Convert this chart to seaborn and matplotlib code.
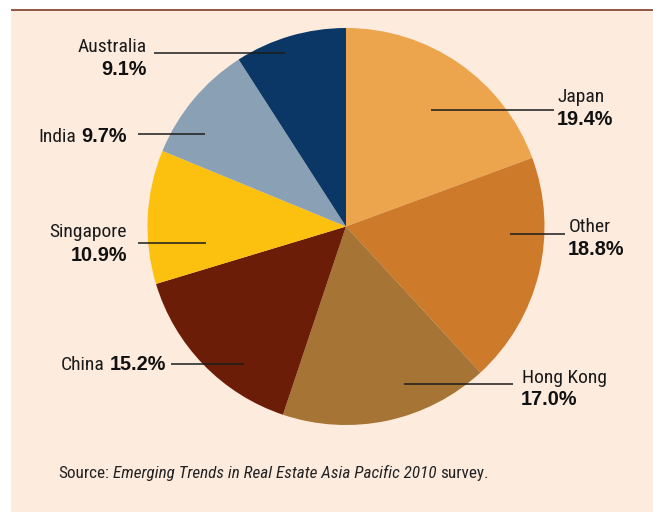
import matplotlib
matplotlib.use("Agg")
import matplotlib.pyplot as plt
import seaborn as sns
from matplotlib import font_manager
from matplotlib.patches import Rectangle

# ---------------- data ----------------
regions = ["Japan", "Other", "Hong Kong", "China", "Singapore", "India", "Australia"]
shares = [19.4, 18.8, 17.0, 15.2, 10.9, 9.7, 9.1]
share_labels = ["19.4%", "18.8%", "17.0%", "15.2%", "10.9%", "9.7%", "9.1%"]
colors = ["#EDA54D", "#CD7A2B", "#A67434", "#6B1D07", "#FCC10E", "#8AA0B5", "#0B3767"]
source_pre = "Source: "
source_title = "Emerging Trends in Real Estate Asia Pacific 2010"
source_post = "survey."

# ---------------- style ----------------
sns.set_theme(style="white")


def pick(fams):
    for f in fams:
        try:
            font_manager.findfont(font_manager.FontProperties(family=f), fallback_to_default=False)
            return f
        except Exception:
            continue
    return "DejaVu Sans"


NARROW = pick(["Liberation Sans Narrow", "Roboto Condensed", "Liberation Sans"])
BOLD = pick(["Liberation Sans", "Arimo", "DejaVu Sans"])
plt.rcParams["font.family"] = [NARROW, "DejaVu Sans"]

W, H = 653, 512
fig = plt.figure(figsize=(W / 100, H / 100), dpi=100)
fig.patch.set_facecolor("white")
ax = fig.add_axes([0, 0, 1, 1])

palette = sns.color_palette(colors)
ax.pie(shares, colors=palette, startangle=-90, counterclock=True,
       center=(346, 226.5), radius=198.5,
       wedgeprops=dict(linewidth=0, edgecolor="none"))
ax.set_xlim(0, W)
ax.set_ylim(H, 0)
ax.set_aspect("equal")
ax.axis("off")

# panel background
bg = Rectangle((11, 10), W - 11, H - 10, facecolor="#FDEBDD", edgecolor="none", zorder=-10,
               transform=ax.transData)
ax.add_patch(bg)
ax.plot([11, W], [9.6, 9.6], color="#8A4A33", lw=1.3, solid_capstyle="butt", zorder=5)

NAME_FS = 14.0
NUM_FS = 14.3
LINE_C = "#1c1c1c"

fig.canvas.draw()
renderer = fig.canvas.get_renderer()


def width_of(t):
    bb = t.get_window_extent(renderer=renderer)
    return bb.width


def name_text(x, y, s, ha):
    return ax.text(x, y, s, ha=ha, va="baseline", fontsize=NAME_FS, family=[NARROW, "DejaVu Sans"],
                   color="#1a1a1a")


def num_text(x, y, s, ha):
    return ax.text(x, y, s, ha=ha, va="baseline", fontsize=NUM_FS, family=[BOLD, "DejaVu Sans"],
                   fontweight="bold", color="#111111")


def leader(x0, x1, y):
    ax.plot([x0, x1], [y, y], color=LINE_C, lw=1.1, solid_capstyle="butt", zorder=4)


idx = {r: i for i, r in enumerate(regions)}

# Japan
name_text(558, 102, regions[idx["Japan"]], "left")
num_text(557, 125, share_labels[idx["Japan"]], "left")
leader(431, 554, 110)
# Other
name_text(569, 232, regions[idx["Other"]], "left")
num_text(568, 255, share_labels[idx["Other"]], "left")
leader(510, 565, 234)
# Hong Kong
name_text(522, 383, regions[idx["Hong Kong"]], "left")
num_text(521, 405, share_labels[idx["Hong Kong"]], "left")
leader(404, 513, 384)
# Singapore
name_text(127, 237, regions[idx["Singapore"]], "right")
num_text(127, 261, share_labels[idx["Singapore"]], "right")
leader(138, 206, 243)
# Australia
name_text(147, 52, regions[idx["Australia"]], "right")
num_text(147, 75, share_labels[idx["Australia"]], "right")
leader(154, 285, 52.5)


def inline(xr, y, name, num):
    t = num_text(xr, y, num, "right")
    w = width_of(t)
    name_text(xr - w - 5, y, name, "right")


inline(127, 142, regions[idx["India"]], share_labels[idx["India"]])
leader(138, 205, 134)
inline(166, 370, regions[idx["China"]], share_labels[idx["China"]])
leader(171, 244, 364)

# source line
SRC_FS = 12.3
t1 = ax.text(58, 478, source_pre.strip(), ha="left", va="baseline", fontsize=SRC_FS, color="#222222")
x = 58 + width_of(t1) + 4
t2 = ax.text(x, 478, source_title, ha="left", va="baseline", fontsize=SRC_FS, style="italic",
             color="#222222")
x = x + width_of(t2) + 4
ax.text(x, 478, source_post, ha="left", va="baseline", fontsize=SRC_FS, color="#222222")

fig.savefig("out.png", dpi=100, facecolor="white")
